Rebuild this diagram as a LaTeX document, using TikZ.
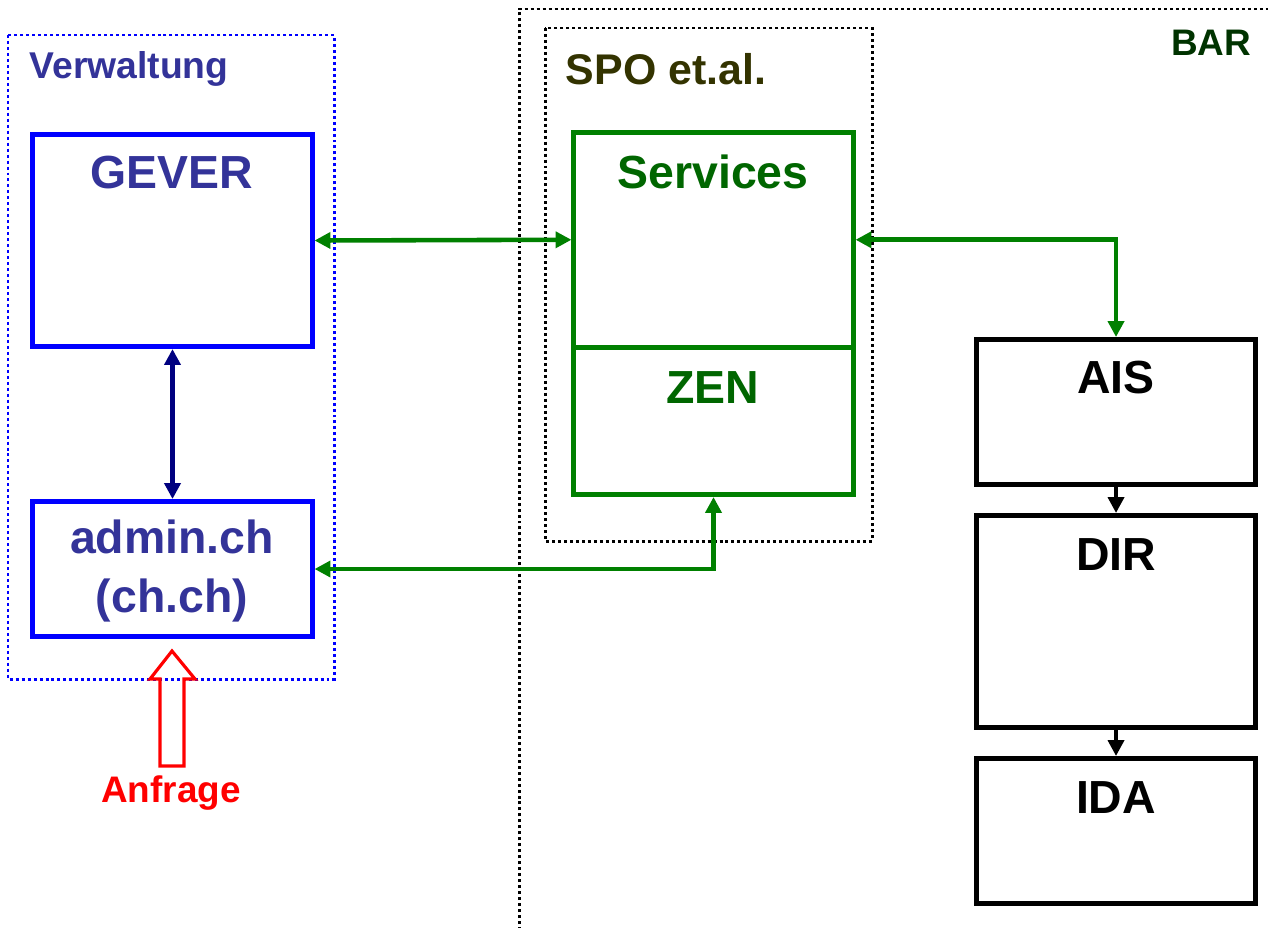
\documentclass[tikz,border=0pt]{standalone}
\usepackage{fontspec}
\setmainfont{Liberation Sans}
\usetikzlibrary{arrows.meta}
\definecolor{txtblue}{HTML}{333399}
\definecolor{boxgreen}{HTML}{008000}
\definecolor{txtgreen}{HTML}{006600}
\definecolor{bargreen}{HTML}{003300}
\definecolor{spoolive}{HTML}{333300}
\tikzset{
  sysbox/.style={draw, line width=1.4pt, minimum width=2.79cm, inner sep=0pt},
  title/.style={font=\fontsize{13.2}{17}\selectfont\bfseries, align=center},
  frame/.style={line width=0.85pt, dash pattern=on 0.85pt off 0.85pt},
  link/.style={boxgreen, line width=1.3pt, <->},
}
\begin{document}
\begin{tikzpicture}[x=0.01cm, y=-0.01cm, >={Triangle[length=4.5pt,width=4.5pt]}]
\useasboundingbox (0,0) rectangle (1268,927);
%\draw[help lines, color=gray!30] (0,0) grid[step=100] (1268,927);
\draw[frame, blue] (8,35) rectangle (334,679);
\draw[frame] (519,930) -- (519,9) -- (1270,9);
\draw[frame] (545,28) rectangle (872,541);
\node[font=\fontsize{10.6}{13}\selectfont\bfseries, txtblue] (verwaltung) at (129,69) {Verwaltung};
\node[font=\fontsize{12.2}{15}\selectfont\bfseries, spoolive] (spo) at (666,69) {SPO et.al.};
\node[font=\fontsize{10.5}{13}\selectfont\bfseries, bargreen] (bar) at (1211,43) {BAR};
% Verwaltung
\node[sysbox, blue, minimum height=2.12cm] (gever) at (172.5,240.5) {};
\node[sysbox, blue, minimum height=1.35cm] (admin) at (172.5,569) {};
\node[title, txtblue] (gevertxt) at (172,173) {GEVER};
\node[title, txtblue] (admintxt) at (172,571) {admin.ch\\(ch.ch)};
% SPO
\node[sysbox, boxgreen, minimum height=2.145cm] (services) at (713.5,239.75) {};
\node[sysbox, boxgreen, minimum height=1.475cm] (zen) at (713.5,420.75) {};
\node[title, txtgreen] (servicestxt) at (713,172) {Services};
\node[title, txtgreen] (zentxt) at (713,388) {ZEN};
% BAR
\node[sysbox, minimum height=1.45cm] (ais) at (1116,412) {};
\node[sysbox, minimum height=2.12cm] (dir) at (1116,621.5) {};
\node[sysbox, minimum height=1.45cm] (ida) at (1116,831) {};
\node[title] (aistxt) at (1116,378) {AIS};
\node[title] (dirtxt) at (1116,555) {DIR};
\node[title] (idatxt) at (1116,798) {IDA};
% connectors
\draw[link] (gever.east) -- (services.west);
\draw[link] (services.east) -| (ais.north);
\draw[link] (zen.south) |- (admin.east);
\draw[line width=1.3pt, <->, blue!50!black] (gever.south) -- (admin.north);
\draw[line width=1.1pt, ->] (ais.south) -- (dir.north);
\draw[line width=1.1pt, ->] (dir.south) -- (ida.north);
% Anfrage
\draw[red, line width=0.9pt, line join=miter] (160,766) -- (160,679) -- (150,679) -- (172,651) -- (195,679) -- (184,679) -- (184,766) -- cycle;
\node[font=\fontsize{10.5}{13}\selectfont\bfseries, red] (anfrage) at (171,793) {Anfrage};
\end{tikzpicture}
\end{document}
